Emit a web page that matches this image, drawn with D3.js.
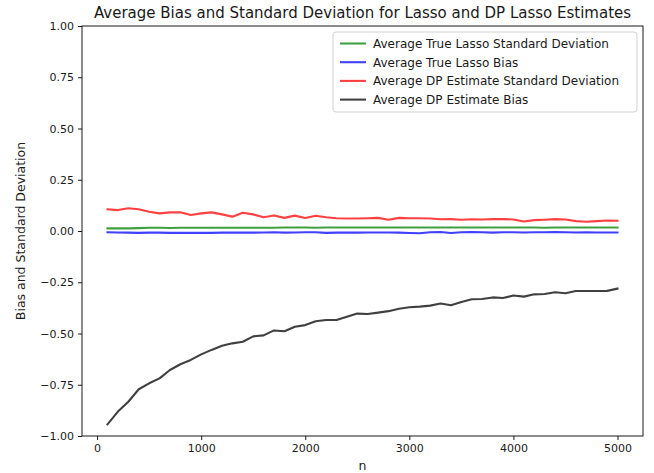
<!DOCTYPE html>
<html><head><meta charset="utf-8">
<script src="https://cdn.jsdelivr.net/npm/d3@7"></script>
<style>body{margin:0;background:#fff}svg{display:block}text{font-family:"DejaVu Sans",sans-serif;fill:#1a1a1a}</style>
</head><body><svg id="c" width="654" height="473"></svg>
<script>
const ns = [100,200,300,400,500,600,700,800,900,1000,1100,1200,1300,1400,1500,1600,1700,1800,1900,2000,2100,2200,2300,2400,2500,2600,2700,2800,2900,3000,3100,3200,3300,3400,3500,3600,3700,3800,3900,4000,4100,4200,4300,4400,4500,4600,4700,4800,4900,5000];
const trueSD = [0.013,0.013,0.013,0.014,0.016,0.016,0.015,0.016,0.016,0.016,0.016,0.016,0.016,0.016,0.016,0.016,0.016,0.017,0.017,0.017,0.016,0.017,0.017,0.017,0.017,0.017,0.017,0.017,0.017,0.017,0.017,0.017,0.017,0.017,0.017,0.017,0.017,0.017,0.017,0.017,0.017,0.017,0.016,0.017,0.017,0.017,0.017,0.017,0.017,0.017];
const trueBias = [-0.006,-0.007,-0.008,-0.009,-0.008,-0.008,-0.009,-0.009,-0.009,-0.009,-0.009,-0.008,-0.008,-0.007,-0.008,-0.007,-0.006,-0.008,-0.007,-0.006,-0.006,-0.009,-0.008,-0.007,-0.008,-0.007,-0.007,-0.007,-0.008,-0.010,-0.011,-0.006,-0.005,-0.010,-0.006,-0.005,-0.006,-0.008,-0.006,-0.006,-0.007,-0.006,-0.006,-0.005,-0.006,-0.007,-0.006,-0.007,-0.007,-0.007];
const dpSD = [0.106,0.102,0.111,0.106,0.094,0.086,0.091,0.091,0.078,0.086,0.091,0.081,0.070,0.089,0.081,0.067,0.076,0.064,0.075,0.063,0.074,0.067,0.062,0.061,0.061,0.062,0.064,0.055,0.064,0.062,0.062,0.061,0.057,0.058,0.055,0.057,0.056,0.058,0.058,0.056,0.046,0.053,0.055,0.058,0.056,0.048,0.045,0.048,0.051,0.050];
const dpBias = [-0.943,-0.881,-0.833,-0.772,-0.743,-0.719,-0.678,-0.650,-0.629,-0.602,-0.580,-0.560,-0.548,-0.540,-0.514,-0.509,-0.485,-0.489,-0.467,-0.459,-0.440,-0.434,-0.434,-0.418,-0.403,-0.405,-0.398,-0.391,-0.379,-0.372,-0.369,-0.364,-0.354,-0.362,-0.346,-0.333,-0.332,-0.324,-0.327,-0.315,-0.320,-0.309,-0.307,-0.299,-0.304,-0.293,-0.293,-0.293,-0.292,-0.281];
const xTicks = [0,1000,2000,3000,4000,5000];
const yTicks = [-1.00,-0.75,-0.50,-0.25,0.00,0.25,0.50,0.75,1.00];
const seriesNames = ["Average True Lasso Standard Deviation","Average True Lasso Bias","Average DP Estimate Standard Deviation","Average DP Estimate Bias"];
const seriesColors = ["#008000","#0000ff","#ff0000","#000000"];
const seriesData = [trueSD, trueBias, dpSD, dpBias];

const svg = d3.select("#c");
const L=82, R=643, T=26, B=436;
const x = d3.scaleLinear().domain([-145,5245]).range([L,R]);
const y = d3.scaleLinear().domain([-1,1]).range([B,T]);

const g = svg.append("g");
const line = d3.line().x((d,i)=>x(ns[i])).y(d=>y(d));
seriesData.forEach((s,k)=>{
  g.append("path").datum(s).attr("d",line).attr("fill","none")
   .attr("stroke",seriesColors[k]).attr("stroke-opacity",0.75).attr("stroke-width",2.1)
   .attr("stroke-linejoin","round").attr("stroke-linecap","square");
});

const xa = svg.append("g").attr("transform",`translate(0,${B})`)
  .call(d3.axisBottom(x).tickValues(xTicks).tickFormat(d3.format("d")).tickSize(4).tickPadding(4));
const ya = svg.append("g").attr("transform",`translate(${L},0)`)
  .call(d3.axisLeft(y).tickValues(yTicks).tickFormat(d=>d3.format(".2f")(d).replace("-","\u2212")).tickSize(4).tickPadding(4));
[xa,ya].forEach(a=>{a.select(".domain").remove();a.selectAll("text").style("font-size","11px").attr("fill","#1a1a1a");a.selectAll("line").attr("stroke","#000").attr("stroke-width",0.9);});

svg.append("rect").attr("x",L).attr("y",T).attr("width",R-L).attr("height",B-T)
  .attr("fill","none").attr("stroke","#000").attr("stroke-width",0.9);

svg.append("text").attr("x",(L+R)/2).attr("y",18).attr("text-anchor","middle").style("font-size","15px").text("Average Bias and Standard Deviation for Lasso and DP Lasso Estimates");
svg.append("text").attr("x",(L+R)/2).attr("y",470).attr("text-anchor","middle").style("font-size","12.5px").text("n");
svg.append("text").attr("transform",`translate(25,${(T+B)/2}) rotate(-90)`).attr("text-anchor","middle").style("font-size","12.5px").text("Bias and Standard Deviation");

const lg = svg.append("g");
lg.append("rect").attr("x",333).attr("y",32).attr("width",304).attr("height",80).attr("rx",3)
  .attr("fill","#fff").attr("fill-opacity",0.8).attr("stroke","#cccccc").attr("stroke-width",0.9);
seriesNames.forEach((nm,k)=>{
  const yy = 43.5 + k*18.7;
  lg.append("line").attr("x1",340).attr("x2",366).attr("y1",yy).attr("y2",yy)
    .attr("stroke",seriesColors[k]).attr("stroke-opacity",0.75).attr("stroke-width",2.1);
  lg.append("text").attr("x",373).attr("y",yy+4.3).style("font-size",'12px').text(nm);
});
</script></body></html>
